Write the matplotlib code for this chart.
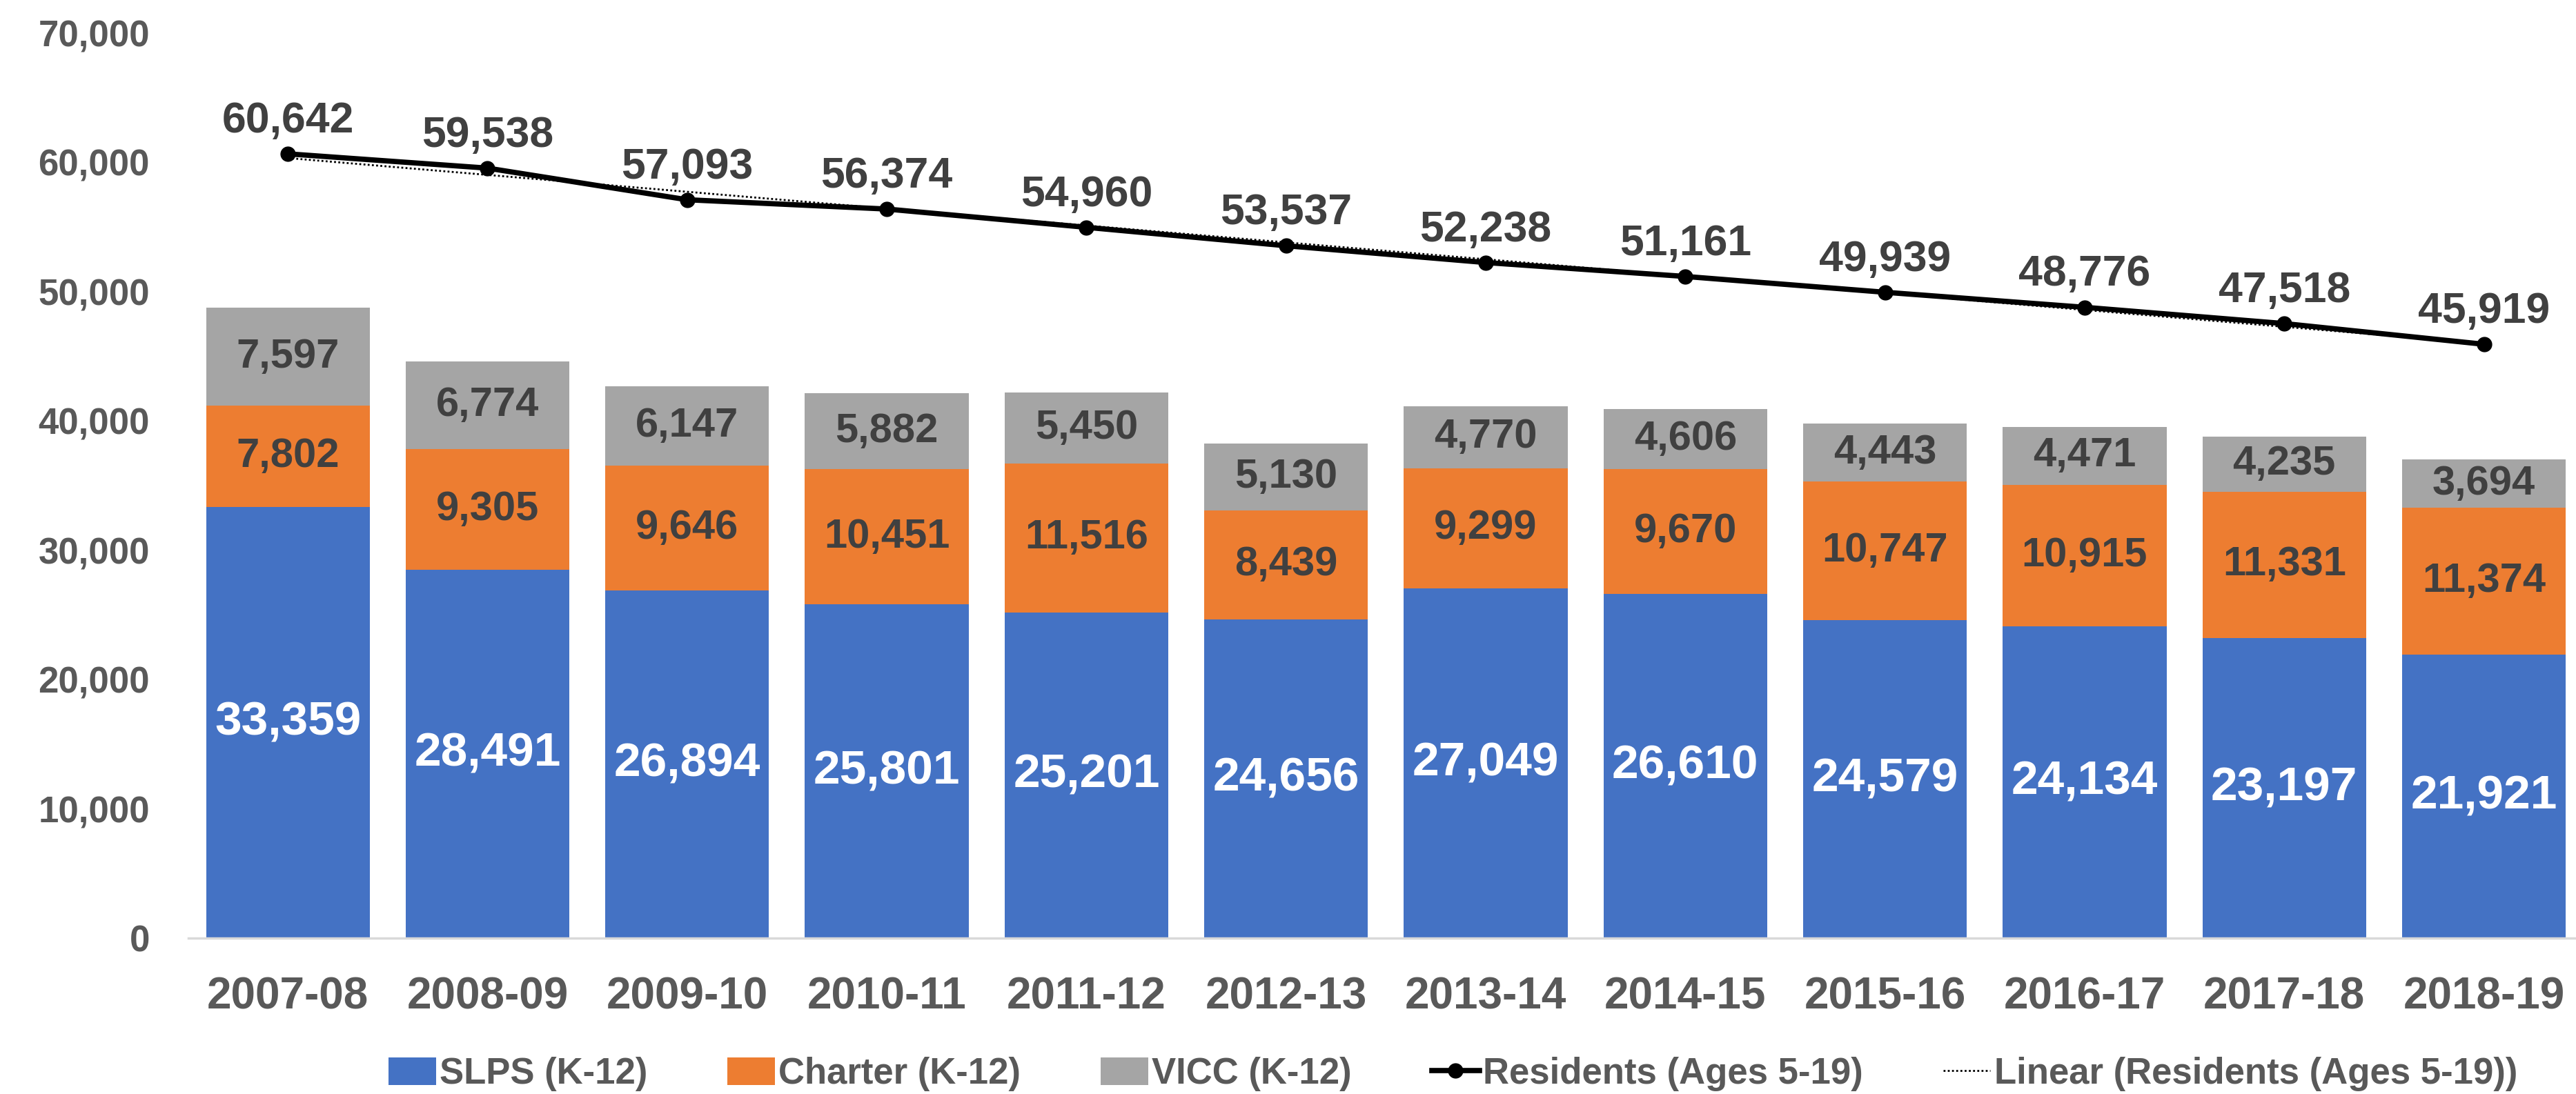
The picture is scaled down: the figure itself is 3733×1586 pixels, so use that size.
import numpy as np
import matplotlib
matplotlib.use("Agg")
import matplotlib.pyplot as plt
from matplotlib.ticker import FuncFormatter

plt.rcParams['font.family'] = ['Liberation Sans', 'DejaVu Sans']

years = ['2007-08', '2008-09', '2009-10', '2010-11', '2011-12', '2012-13',
         '2013-14', '2014-15', '2015-16', '2016-17', '2017-18', '2018-19']
slps = [33359, 28491, 26894, 25801, 25201, 24656, 27049, 26610, 24579, 24134, 23197, 21921]
charter = [7802, 9305, 9646, 10451, 11516, 8439, 9299, 9670, 10747, 10915, 11331, 11374]
vicc = [7597, 6774, 6147, 5882, 5450, 5130, 4770, 4606, 4443, 4471, 4235, 3694]
residents = [60642, 59538, 57093, 56374, 54960, 53537, 52238, 51161, 49939, 48776, 47518, 45919]

blue = '#4472C4'
orange = '#ED7D31'
grey = '#A5A5A5'
tick_col = '#595959'
lab_col = '#404040'

fig = plt.figure(figsize=(37.33, 15.86), dpi=100)
ax = fig.add_axes([0.073, 0.1425, 0.930, 0.8275])

x = np.arange(len(years))
w = 0.82
b1 = ax.bar(x, slps, w, color=blue, label='SLPS (K-12)')
b2 = ax.bar(x, charter, w, bottom=slps, color=orange, label='Charter (K-12)')
bot3 = np.array(slps) + np.array(charter)
b3 = ax.bar(x, vicc, w, bottom=bot3, color=grey, label='VICC (K-12)')

line, = ax.plot(x, residents, color='black', lw=5.5, marker='o', ms=15,
                label='Residents (Ages 5-19)', zorder=4)

# linear trendline
coef = np.polyfit(x, residents, 1)
trend, = ax.plot(x, np.polyval(coef, x), color='black', lw=2, ls=(0, (1, 1.2)),
                 label='Linear (Residents (Ages 5-19))', zorder=5)

for b, v in zip(b1, slps):
    ax.text(b.get_x() + b.get_width() / 2, b.get_y() + v / 2, f'{v:,}',
            ha='center', va='center', color='white', fontsize=50, fontweight='bold')
for b, v in zip(b2, charter):
    ax.text(b.get_x() + b.get_width() / 2, b.get_y() + v / 2, f'{v:,}',
            ha='center', va='center', color=lab_col, fontsize=43, fontweight='bold')
for b, v in zip(b3, vicc):
    ax.text(b.get_x() + b.get_width() / 2, b.get_y() + v / 2, f'{v:,}',
            ha='center', va='center', color=lab_col, fontsize=43, fontweight='bold')
for xi, v in zip(x, residents):
    ax.annotate(f'{v:,}', (xi, v), xytext=(0, 13), textcoords='offset points',
                ha='center', va='bottom', color=lab_col, fontsize=45, fontweight='bold')

ax.set_xlim(-0.5, len(years) - 0.5)
ax.set_ylim(0, 70000)
ax.set_yticks(np.arange(0, 70001, 10000))
ax.yaxis.set_major_formatter(FuncFormatter(lambda v, p: f'{int(v):,}'))
ax.set_xticks(x)
ax.set_xticklabels(years)
ax.tick_params(axis='y', length=0, pad=40, labelsize=38, labelcolor=tick_col)
ax.tick_params(axis='x', length=0, pad=40, labelsize=46, labelcolor=tick_col)
for t in ax.get_xticklabels() + ax.get_yticklabels():
    t.set_fontweight('bold')

for s in ['top', 'right', 'left']:
    ax.spines[s].set_visible(False)
ax.spines['bottom'].set_color('#D9D9D9')
ax.spines['bottom'].set_linewidth(2.5)

leg = fig.legend(handles=[b1, b2, b3, line, trend], loc='center',
                 bbox_to_anchor=(0.564, 0.018), ncol=5, frameon=False,
                 prop={'size': 38, 'weight': 'bold'}, handlelength=1.3,
                 handleheight=0.8, handletextpad=0.1, columnspacing=2.2)
for t in leg.get_texts():
    t.set_color(tick_col)

fig.savefig('out.png', dpi=100)
